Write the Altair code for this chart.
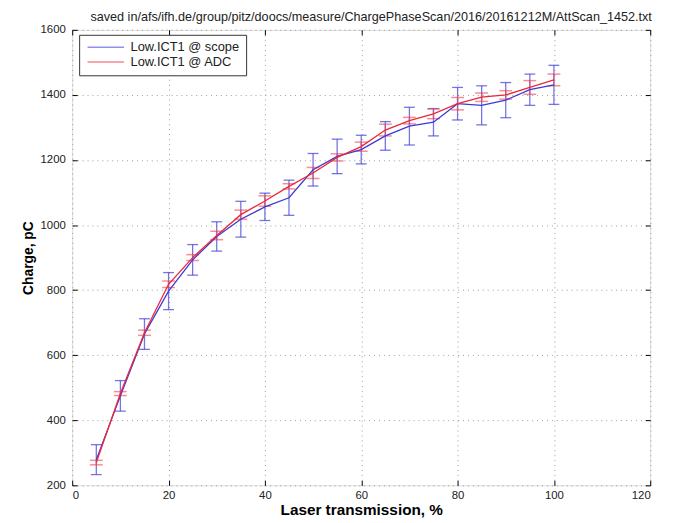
import altair as alt
import pandas as pd

title_text = "saved in/afs/ifh.de/group/pitz/doocs/measure/ChargePhaseScan/2016/20161212M/AttScan_1452.txt"
series_names = ["Low.ICT1 @ scope", "Low.ICT1 @ ADC"]
transmission = [5, 10, 15, 20, 25, 30, 35, 40, 45, 50, 55, 60, 65, 70, 75, 80, 85, 90, 95, 100]
scope = [279, 475, 665, 797, 893, 965, 1018, 1056, 1084, 1170, 1211, 1232, 1274, 1304, 1316, 1373, 1368, 1384, 1416, 1431]
scope_err = [46, 47, 47, 57, 47, 45, 55, 42, 54, 50, 53, 44, 44, 58, 42, 50, 60, 54, 48, 60]
adc = [270, 482, 669, 818, 900, 968, 1032, 1074, 1119, 1160, 1208, 1241, 1292, 1321, 1342, 1373, 1393, 1400, 1423, 1446]
adc_err = [7, 6, 8, 10, 9, 13, 14, 16, 8, 17, 11, 14, 18, 10, 15, 19, 13, 13, 21, 18]
x_ticks = [0, 20, 40, 60, 80, 100, 120]
y_ticks = [200, 400, 600, 800, 1000, 1200, 1400, 1600]

FONT = "Liberation Sans"

rows = []
for name, vals, errs in ((series_names[0], scope, scope_err), (series_names[1], adc, adc_err)):
    for t, v, e in zip(transmission, vals, errs):
        rows.append({"series": name, "t": t, "q": v, "lo": v - e, "hi": v + e})
df = pd.DataFrame(rows)

xs = alt.Scale(domain=[0, 120], nice=False, zero=False)
ys = alt.Scale(domain=[200, 1600], nice=False, zero=False)

x_axis = alt.Axis(values=x_ticks, format="d", title="Laser transmission, %", offset=-5, tickSize=5,
                  tickColor="black", labelPadding=4, domain=False, grid=True,
                  gridColor="#9a9a9a", gridDash=[1, 4], labelFontSize=11.5,
                  labelColor="#222", titleFontSize=15.5, titleFontWeight="bold",
                  titlePadding=2, labelFont=FONT, titleFont=FONT, titleColor="black")
y_axis = alt.Axis(values=y_ticks, format="d", title="Charge, pC", offset=-5, tickSize=5,
                  tickColor="black", labelPadding=7, domain=False, grid=True,
                  gridColor="#9a9a9a", gridDash=[1, 4], labelFontSize=11.5,
                  labelColor="#222", titleFontSize=14, titleFontWeight="bold",
                  titlePadding=5, labelFont=FONT, titleFont=FONT, titleColor="black")

base = alt.Chart(df)

scope_df = df[df.series == series_names[0]]
adc_df = df[df.series == series_names[1]]

BLUE_E = "#4646dc"
RED_E = "#f04050"

blue_err = alt.Chart(scope_df).mark_rule(color=BLUE_E, opacity=0.75, strokeWidth=1.3).encode(
    x=alt.X("t:Q", scale=xs, axis=x_axis), y=alt.Y("lo:Q", scale=ys, axis=y_axis), y2="hi:Q")
blue_cap_lo = alt.Chart(scope_df).mark_tick(orient="horizontal", size=11, thickness=1.3,
                                            color=BLUE_E, opacity=0.75).encode(
    x=alt.X("t:Q", scale=xs), y=alt.Y("lo:Q", scale=ys))
blue_cap_hi = alt.Chart(scope_df).mark_tick(orient="horizontal", size=11, thickness=1.3,
                                            color=BLUE_E, opacity=0.75).encode(
    x=alt.X("t:Q", scale=xs), y=alt.Y("hi:Q", scale=ys))

red_err = alt.Chart(adc_df).mark_rule(color=RED_E, opacity=0.6, strokeWidth=1.5).encode(
    x=alt.X("t:Q", scale=xs), y=alt.Y("lo:Q", scale=ys), y2="hi:Q")
red_cap_lo = alt.Chart(adc_df).mark_tick(orient="horizontal", size=13, thickness=1.5,
                                         color=RED_E, opacity=0.6).encode(
    x=alt.X("t:Q", scale=xs), y=alt.Y("lo:Q", scale=ys))
red_cap_hi = alt.Chart(adc_df).mark_tick(orient="horizontal", size=13, thickness=1.5,
                                         color=RED_E, opacity=0.6).encode(
    x=alt.X("t:Q", scale=xs), y=alt.Y("hi:Q", scale=ys))

lines = base.mark_line(strokeWidth=1.3).encode(
    x=alt.X("t:Q", scale=xs),
    y=alt.Y("q:Q", scale=ys),
    color=alt.Color("series:N",
                    scale=alt.Scale(domain=series_names, range=["#3a3ad6", "#ec2838"]),
                    sort=series_names,
                    legend=alt.Legend(title=None, orient="none", legendX=7, legendY=5,
                                      direction="vertical", symbolType="M-0.8,0H6.6",
                                      symbolSize=100, symbolStrokeWidth=1.5,
                                      symbolOpacity=0.55, symbolFillColor="transparent",
                                      labelFontSize=13,
                                      labelFont=FONT, labelColor="#222",
                                      strokeColor="#333", fillColor="white",
                                      padding=6, rowPadding=1, labelOffset=33)),
    order=alt.Order("t:Q"),
)

frame_axes = base.mark_point(opacity=0).encode(
    x=alt.X("t:Q", scale=xs, axis=alt.Axis(orient="top", values=x_ticks, labels=False,
                                           title=None, offset=-5, tickSize=5, tickColor="black",
                                           domain=False, grid=False, minExtent=0, maxExtent=0,
                                           labelPadding=0)),
    y=alt.Y("q:Q", scale=ys, axis=alt.Axis(orient="right", values=y_ticks, labels=False,
                                           title=None, offset=-5, tickSize=5, tickColor="black",
                                           domain=False, grid=False, minExtent=0, maxExtent=0,
                                           labelPadding=0)),
)

main = alt.layer(blue_err, blue_cap_lo, blue_cap_hi, red_err, red_cap_lo, red_cap_hi, lines)

chart = alt.layer(main, frame_axes).resolve_axis(x="independent", y="independent").properties(
    width=585,
    height=461,
    title=alt.Title(title_text, fontSize=12.8, fontWeight="normal", font=FONT,
                    color="#222", anchor="middle", offset=0, dx=10),
    autosize=alt.AutoSizeParams(type="none"),
    padding={"left": 65, "top": 19, "right": 20, "bottom": 35},
).configure_view(stroke="black", strokeWidth=1.2).configure(background="white")

chart.save("out.html", embed_options={"renderer": "svg", "actions": False})
